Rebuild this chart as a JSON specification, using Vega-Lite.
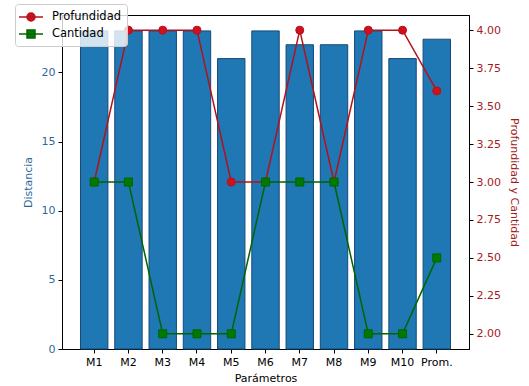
{
  "$schema": "https://vega.github.io/schema/vega-lite/v6.json",
  "width": 407,
  "height": 334,
  "autosize": "none",
  "padding": {"left": 62, "top": 15, "right": 60, "bottom": 37},
  "config": {
    "font": "DejaVu Sans",
    "view": {"stroke": "black", "strokeWidth": 1},
    "axis": {
      "grid": false,
      "domainColor": "black",
      "tickColor": "black",
      "tickSize": 4,
      "labelFontSize": 11,
      "titleFontSize": 11,
      "titleFontWeight": "normal",
      "labelColor": "black",
      "titleColor": "black",
      "labelPadding": 3
    },
    "legend": {
      "title": null,
      "orient": "none",
      "legendX": -47,
      "legendY": -11,
      "padding": 5,
      "fillColor": "rgba(255,255,255,0.8)",
      "strokeColor": "#cccccc",
      "cornerRadius": 3,
      "labelFontSize": 11.5,
      "labelColor": "black",
      "symbolSize": 196,
      "symbolOffset": 3,
      "labelOffset": 13,
      "rowPadding": 2,
      "symbolStrokeWidth": 1.5
    }
  },
  "data": {
    "values": [
      {"Parametro": "M1", "Distancia": 23, "Profundidad": 3, "Cantidad": 3},
      {"Parametro": "M2", "Distancia": 23, "Profundidad": 4, "Cantidad": 3},
      {"Parametro": "M3", "Distancia": 23, "Profundidad": 4, "Cantidad": 2},
      {"Parametro": "M4", "Distancia": 23, "Profundidad": 4, "Cantidad": 2},
      {"Parametro": "M5", "Distancia": 21, "Profundidad": 3, "Cantidad": 2},
      {"Parametro": "M6", "Distancia": 23, "Profundidad": 3, "Cantidad": 3},
      {"Parametro": "M7", "Distancia": 22, "Profundidad": 4, "Cantidad": 3},
      {"Parametro": "M8", "Distancia": 22, "Profundidad": 3, "Cantidad": 3},
      {"Parametro": "M9", "Distancia": 23, "Profundidad": 4, "Cantidad": 2},
      {"Parametro": "M10", "Distancia": 21, "Profundidad": 4, "Cantidad": 2},
      {"Parametro": "Prom.", "Distancia": 22.4, "Profundidad": 3.6, "Cantidad": 2.5}
    ]
  },
  "encoding": {
    "x": {
      "field": "Parametro",
      "type": "nominal",
      "sort": null,
      "scale": {"paddingInner": 0.2, "paddingOuter": 0.54},
      "axis": {"title": "Parámetros", "labelAngle": 0, "titlePadding": 5}
    }
  },
  "layer": [
    {
      "mark": {"type": "bar", "fill": "#1f77b4", "stroke": "#174a78", "strokeWidth": 1},
      "encoding": {
        "y": {
          "field": "Distancia",
          "type": "quantitative",
          "scale": {"domain": [0, 24.15], "nice": false, "zero": true},
          "axis": {
            "title": "Distancia",
            "values": [0, 5, 10, 15, 20],
            "labelColor": "#2d6a9c",
            "titleColor": "#2d6a9c",
            "titlePadding": 8,
            "orient": "left"
          }
        }
      }
    },
    {
      "transform": [{"fold": ["Profundidad", "Cantidad"], "as": ["Serie", "Valor"]}],
      "encoding": {
        "y": {
          "field": "Valor",
          "type": "quantitative",
          "scale": {"domain": [1.9, 4.1], "nice": false, "zero": false},
          "axis": {
            "title": "Profundidad y Cantidad",
            "orient": "right",
            "values": [2, 2.25, 2.5, 2.75, 3, 3.25, 3.5, 3.75, 4],
            "format": ".2f",
            "labelColor": "#a51c1c",
            "titleColor": "#a51c1c",
            "titlePadding": 8
          }
        }
      },
      "layer": [
        {
          "transform": [{"filter": "datum.Serie === 'Profundidad'"}],
          "mark": {"type": "line", "strokeWidth": 1.5, "stroke": "#b2121c"}
        },
        {
          "transform": [{"filter": "datum.Serie === 'Profundidad'"}],
          "mark": {"type": "point", "filled": true, "size": 64, "opacity": 1, "shape": "circle", "strokeWidth": 1},
          "encoding": {
            "fill": {
              "field": "Serie",
              "type": "nominal",
              "scale": {"domain": ["Profundidad", "Cantidad"], "range": ["#d0101c", "#007a00"]},
              "legend": {
                "symbolType": {"expr": "datum.value === 'Cantidad' ? 'M-1.71,0L1.71,0M-0.57,-0.57L0.57,-0.57L0.57,0.57L-0.57,0.57Z' : 'M-1.71,0L1.71,0M0.57,0A0.57,0.57,0,1,1,-0.57,0A0.57,0.57,0,1,1,0.57,0Z'"}
              }
            },
            "stroke": {
              "field": "Serie",
              "type": "nominal",
              "scale": {"domain": ["Profundidad", "Cantidad"], "range": ["#b2121c", "#006400"]},
              "legend": {
                "symbolType": {"expr": "datum.value === 'Cantidad' ? 'M-1.71,0L1.71,0M-0.57,-0.57L0.57,-0.57L0.57,0.57L-0.57,0.57Z' : 'M-1.71,0L1.71,0M0.57,0A0.57,0.57,0,1,1,-0.57,0A0.57,0.57,0,1,1,0.57,0Z'"}
              }
            }
          }
        },
        {
          "transform": [{"filter": "datum.Serie === 'Cantidad'"}],
          "mark": {"type": "line", "strokeWidth": 1.5, "stroke": "#006400"}
        },
        {
          "transform": [{"filter": "datum.Serie === 'Cantidad'"}],
          "mark": {"type": "point", "filled": true, "size": 64, "opacity": 1, "shape": "square", "strokeWidth": 1},
          "encoding": {
            "fill": {
              "field": "Serie",
              "type": "nominal",
              "scale": {"domain": ["Profundidad", "Cantidad"], "range": ["#d0101c", "#007a00"]},
              "legend": {
                "symbolType": {"expr": "datum.value === 'Cantidad' ? 'M-1.71,0L1.71,0M-0.57,-0.57L0.57,-0.57L0.57,0.57L-0.57,0.57Z' : 'M-1.71,0L1.71,0M0.57,0A0.57,0.57,0,1,1,-0.57,0A0.57,0.57,0,1,1,0.57,0Z'"}
              }
            },
            "stroke": {
              "field": "Serie",
              "type": "nominal",
              "scale": {"domain": ["Profundidad", "Cantidad"], "range": ["#b2121c", "#006400"]},
              "legend": {
                "symbolType": {"expr": "datum.value === 'Cantidad' ? 'M-1.71,0L1.71,0M-0.57,-0.57L0.57,-0.57L0.57,0.57L-0.57,0.57Z' : 'M-1.71,0L1.71,0M0.57,0A0.57,0.57,0,1,1,-0.57,0A0.57,0.57,0,1,1,0.57,0Z'"}
              }
            }
          }
        }
      ]
    }
  ],
  "resolve": {"scale": {"y": "independent"}}
}
